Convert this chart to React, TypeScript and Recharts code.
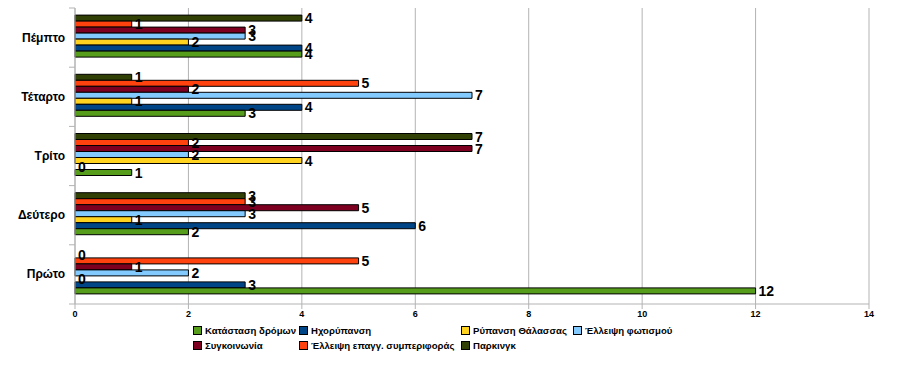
import React from "react";
import {
  BarChart,
  Bar,
  XAxis,
  YAxis,
  CartesianGrid,
  LabelList,
  Cell,
} from "recharts";

const categories = ["Πρώτο", "Δεύτερο", "Τρίτο", "Τέταρτο", "Πέμπτο"];
const katastasiDromon = [12, 2, 1, 3, 4];
const ixorypansi = [3, 6, 0, 4, 4];
const rypansiThalassas = [0, 1, 4, 1, 2];
const elleipsiFotismou = [2, 3, 2, 7, 3];
const sygkoinonia = [1, 5, 7, 2, 3];
const elleipsiSymperiforas = [5, 3, 2, 5, 1];
const parking = [0, 3, 7, 1, 4];
const xTicks = [0, 2, 4, 6, 8, 10, 12, 14];

// legend order (bottom bar of each group first)
const series = [
  { key: "katastasi", name: "Κατάσταση δρόμων", color: "#579d1c", values: katastasiDromon },
  { key: "ixo", name: "Ηχορύπανση", color: "#004586", values: ixorypansi },
  { key: "rypansi", name: "Ρύπανση Θάλασσας", color: "#ffd320", values: rypansiThalassas },
  { key: "fotismos", name: "Έλλειψη φωτισμού", color: "#83caff", values: elleipsiFotismou },
  { key: "sygk", name: "Συγκοινωνία", color: "#7e0021", values: sygkoinonia },
  { key: "symp", name: "Έλλειψη επαγγ. συμπεριφοράς", color: "#ff420e", values: elleipsiSymperiforas },
  { key: "parking", name: "Παρκινγκ", color: "#314004", values: parking },
];

const data = categories.map((name, i) => {
  const row: Record<string, string | number> = { name };
  series.forEach((s) => (row[s.key] = s.values[i]));
  return row;
});

const FONT = "'Liberation Sans', Arial, sans-serif";
const GRID = "#b3b3b3";

const W = 918;
const H = 382;
const MARGIN = { top: 8, right: 49, left: 0, bottom: 58 };
const X_AXIS_H = 20;
const PLOT_H = H - MARGIN.top - MARGIN.bottom - X_AXIS_H;
const HALF_BAND = PLOT_H / categories.length / 2;

// category name + small tick marks on the band edges
function CategoryTick(props: any) {
  const { x, y, payload, index } = props;
  const lx = x + 2;
  return (
    <g>
      <text
        x={x - 2}
        y={y}
        dy={4}
        textAnchor="end"
        fontFamily={FONT}
        fontWeight="bold"
        fontSize={12}
        fill="#000"
      >
        {payload.value}
      </text>
      <line x1={lx} x2={lx + 6} y1={y - HALF_BAND} y2={y - HALF_BAND} stroke={GRID} />
      {index === 0 && (
        <line x1={lx} x2={lx + 6} y1={y + HALF_BAND} y2={y + HALF_BAND} stroke={GRID} />
      )}
    </g>
  );
}

function ValueLabel(props: any) {
  const { x, y, width, height, value } = props;
  if (value === undefined || value === null) return null;
  return (
    <text
      x={Number(x) + Number(width || 0) + 3}
      y={Number(y) + Number(height) / 2}
      dy={5}
      fill="#000"
      fontFamily={FONT}
      fontWeight="bold"
      fontSize={14}
    >
      {value}
    </text>
  );
}

const legendRows = [series.slice(0, 4), series.slice(4)];
const legendCols = [193, 299, 461, 573];

function ChartLegend() {
  return (
    <div style={{ position: "absolute", left: 0, top: 325, width: W }}>
      {legendRows.map((row, r) => (
        <div key={r} style={{ position: "relative", height: 15 }}>
          {row.map((s, c) => (
            <div
              key={s.key}
              style={{
                position: "absolute",
                left: legendCols[c],
                top: 0,
                display: "flex",
                alignItems: "center",
                fontFamily: FONT,
                fontWeight: "bold",
                fontSize: 9.6,
                whiteSpace: "nowrap",
              }}
            >
              <span
                style={{
                  display: "inline-block",
                  width: 7,
                  height: 7,
                  background: s.color,
                  border: "1px solid #000",
                  marginRight: 3,
                }}
              />
              {s.name}
            </div>
          ))}
        </div>
      ))}
    </div>
  );
}

export default function App() {
  // bars are drawn top-to-bottom inside each group, so reverse the legend order
  const barOrder = [...series].reverse();
  return (
    <div style={{ position: "absolute", left: 0, top: 0, width: W, height: H, background: "#fff" }}>
      <BarChart
        width={W}
        height={H}
        data={data}
        layout="vertical"
        margin={MARGIN}
        barCategoryGap="12%"
        barGap={0}
      >
        <CartesianGrid horizontal={false} stroke={GRID} />
        <XAxis
          type="number"
          domain={[0, 14]}
          ticks={xTicks}
          interval={0}
          height={X_AXIS_H}
          stroke={GRID}
          tickSize={5}
          tick={{ fill: "#000", fontFamily: FONT, fontWeight: "bold", fontSize: 9 }}
        />
        <XAxis
          xAxisId="top"
          orientation="top"
          type="number"
          domain={[0, 14]}
          height={0}
          stroke={GRID}
          tick={false}
          tickLine={false}
        />
        <YAxis
          type="category"
          dataKey="name"
          reversed
          width={75}
          stroke={GRID}
          tickLine={false}
          tickSize={6}
          tickMargin={2}
          tick={<CategoryTick />}
        />
        {barOrder.map((s) => (
          <Bar
            key={s.key}
            dataKey={s.key}
            name={s.name}
            fill={s.color}
            stroke="#000"
            strokeWidth={1}
            minPointSize={(v: number) => (v === 0 ? 0.01 : 0)}
            isAnimationActive={false}
          >
            {s.values.map((v, i) => (
              <Cell key={i} stroke={v === 0 ? "none" : "#000"} />
            ))}
            <LabelList dataKey={s.key} content={<ValueLabel />} />
          </Bar>
        ))}
      </BarChart>
      <ChartLegend />
    </div>
  );
}
